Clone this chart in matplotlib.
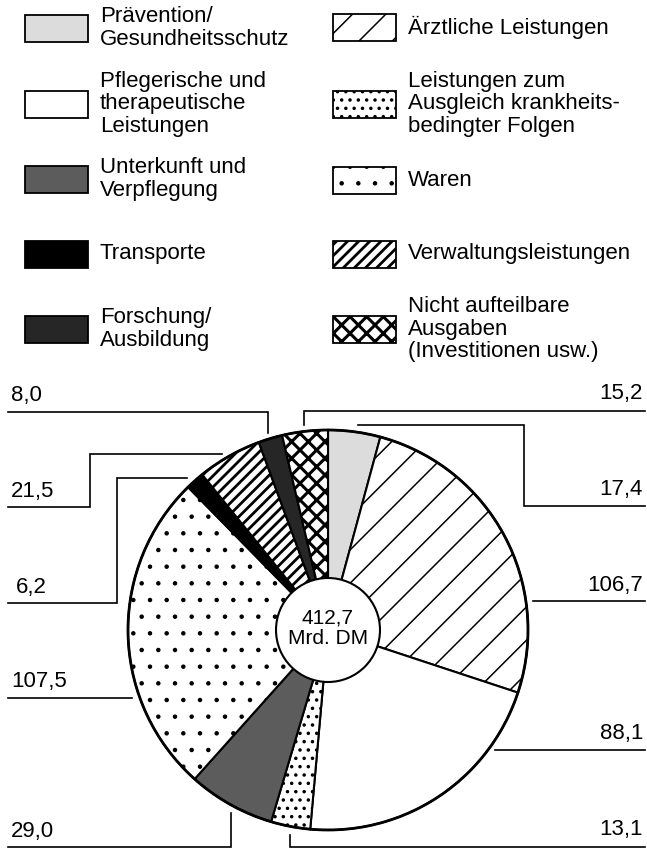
import matplotlib
matplotlib.use("Agg")
import matplotlib.pyplot as plt
from matplotlib.patches import Rectangle, Circle

plt.rcParams['font.family'] = ['Liberation Sans', 'DejaVu Sans']
plt.rcParams['hatch.linewidth'] = 1.1

# ---- data (clockwise from 12 o'clock) ----
categories = ["Prävention/\nGesundheitsschutz",
              "Ärztliche Leistungen",
              "Pflegerische und\ntherapeutische\nLeistungen",
              "Leistungen zum\nAusgleich krankheits-\nbedingter Folgen",
              "Unterkunft und\nVerpflegung",
              "Waren",
              "Transporte",
              "Verwaltungsleistungen",
              "Forschung/\nAusbildung",
              "Nicht aufteilbare\nAusgaben\n(Investitionen usw.)"]
values = [17.4, 106.7, 88.1, 13.1, 29.0, 107.5, 6.2, 21.5, 8.0, 15.2]
total_label = "412,7\nMrd. DM"

# ---- styles ----
facecolors = ['#dcdcdc', 'white', 'white', 'white', '#5c5c5c',
              'white', 'black', 'white', '#262626', 'white']
hatches = [None, '/', None, '..', None, '.', None, '///', None, 'xx']
hatch_lws = [1.0, 1.1, 1.0, 1.3, 1.0, 0.8, 1.0, 2.0, 1.0, 2.2]

# legend layout: (index, box x, box center y)
legend_layout = [(0, 25, 28), (2, 25, 104), (4, 25, 179), (6, 25, 254), (8, 25, 329),
                 (1, 333, 27), (3, 333, 104), (5, 333, 180), (7, 333, 254), (9, 333, 329)]
box_w, box_h = 63, 27

# label layout: (index, text x, text y, ha, leader polyline)
label_layout = [
    (8, 11, 395, 'left', [(8, 412), (268, 412), (268, 433)]),
    (7, 11, 492, 'left', [(8, 507), (90, 507), (90, 454), (222, 454)]),
    (6, 16, 588, 'left', [(8, 603), (117, 603), (117, 478), (187, 478)]),
    (5, 11, 682, 'left', [(8, 698), (132, 698)]),
    (4, 11, 832, 'left', [(8, 847), (231, 847), (231, 813)]),
    (9, 643, 393, 'right', [(645, 411), (304, 411), (304, 425)]),
    (0, 643, 490, 'right', [(645, 506), (524, 506), (524, 425), (358, 425)]),
    (1, 643, 585, 'right', [(645, 601), (533, 601)]),
    (2, 643, 733, 'right', [(645, 750), (495, 750)]),
    (3, 643, 830, 'right', [(645, 847), (290, 847), (290, 835)]),
]

W, H = 647, 848
cx, cy, R, r_hole = 328, 630, 200, 52
fs = 16

fig = plt.figure(figsize=(W / 100, H / 100), dpi=100)
ax = fig.add_axes([0, 0, 1, 1])


def set_hlw(p, lw):
    if hasattr(p, 'set_hatch_linewidth'):
        p.set_hatch_linewidth(lw)


# pie (y axis inverted -> counterclock=True gives visual clockwise)
wedges, _ = ax.pie(values, startangle=-90, counterclock=True, center=(cx, cy),
                   radius=R, colors=facecolors,
                   wedgeprops=dict(edgecolor='black', linewidth=1.5))
for w, h, lw in zip(wedges, hatches, hatch_lws):
    if h:
        w.set_hatch(h)
    set_hlw(w, lw)

ax.add_patch(Circle((cx, cy), R, fill=False, edgecolor='black', linewidth=2.0, zorder=3))
ax.add_patch(Circle((cx, cy), r_hole, facecolor='white', edgecolor='black',
                    linewidth=1.5, zorder=4))
ax.text(cx, cy - 2, total_label, ha='center', va='center', fontsize=15,
        linespacing=1.1, zorder=5)

# legend
for idx, bx, bcy in legend_layout:
    rect = Rectangle((bx, bcy - box_h / 2), box_w, box_h, facecolor=facecolors[idx],
                     edgecolor='black', linewidth=1.3, hatch=hatches[idx])
    set_hlw(rect, hatch_lws[idx])
    ax.add_patch(rect)
    ax.text(bx + box_w + 12, bcy, categories[idx], ha='left', va='center',
            fontsize=fs, linespacing=1.12)

# value labels with leader lines
for idx, tx, ty, ha, poly in label_layout:
    txt = f"{values[idx]:.1f}".replace('.', ',')
    ax.text(tx, ty, txt, ha=ha, va='center', fontsize=fs)
    xs = [p[0] for p in poly]
    ys = [p[1] for p in poly]
    ax.plot(xs, ys, color='black', linewidth=1.2, solid_joinstyle='miter')

ax.set_xlim(0, W)
ax.set_ylim(H, 0)
ax.set_aspect('equal')
ax.axis('off')

fig.savefig("out.png", dpi=100)
